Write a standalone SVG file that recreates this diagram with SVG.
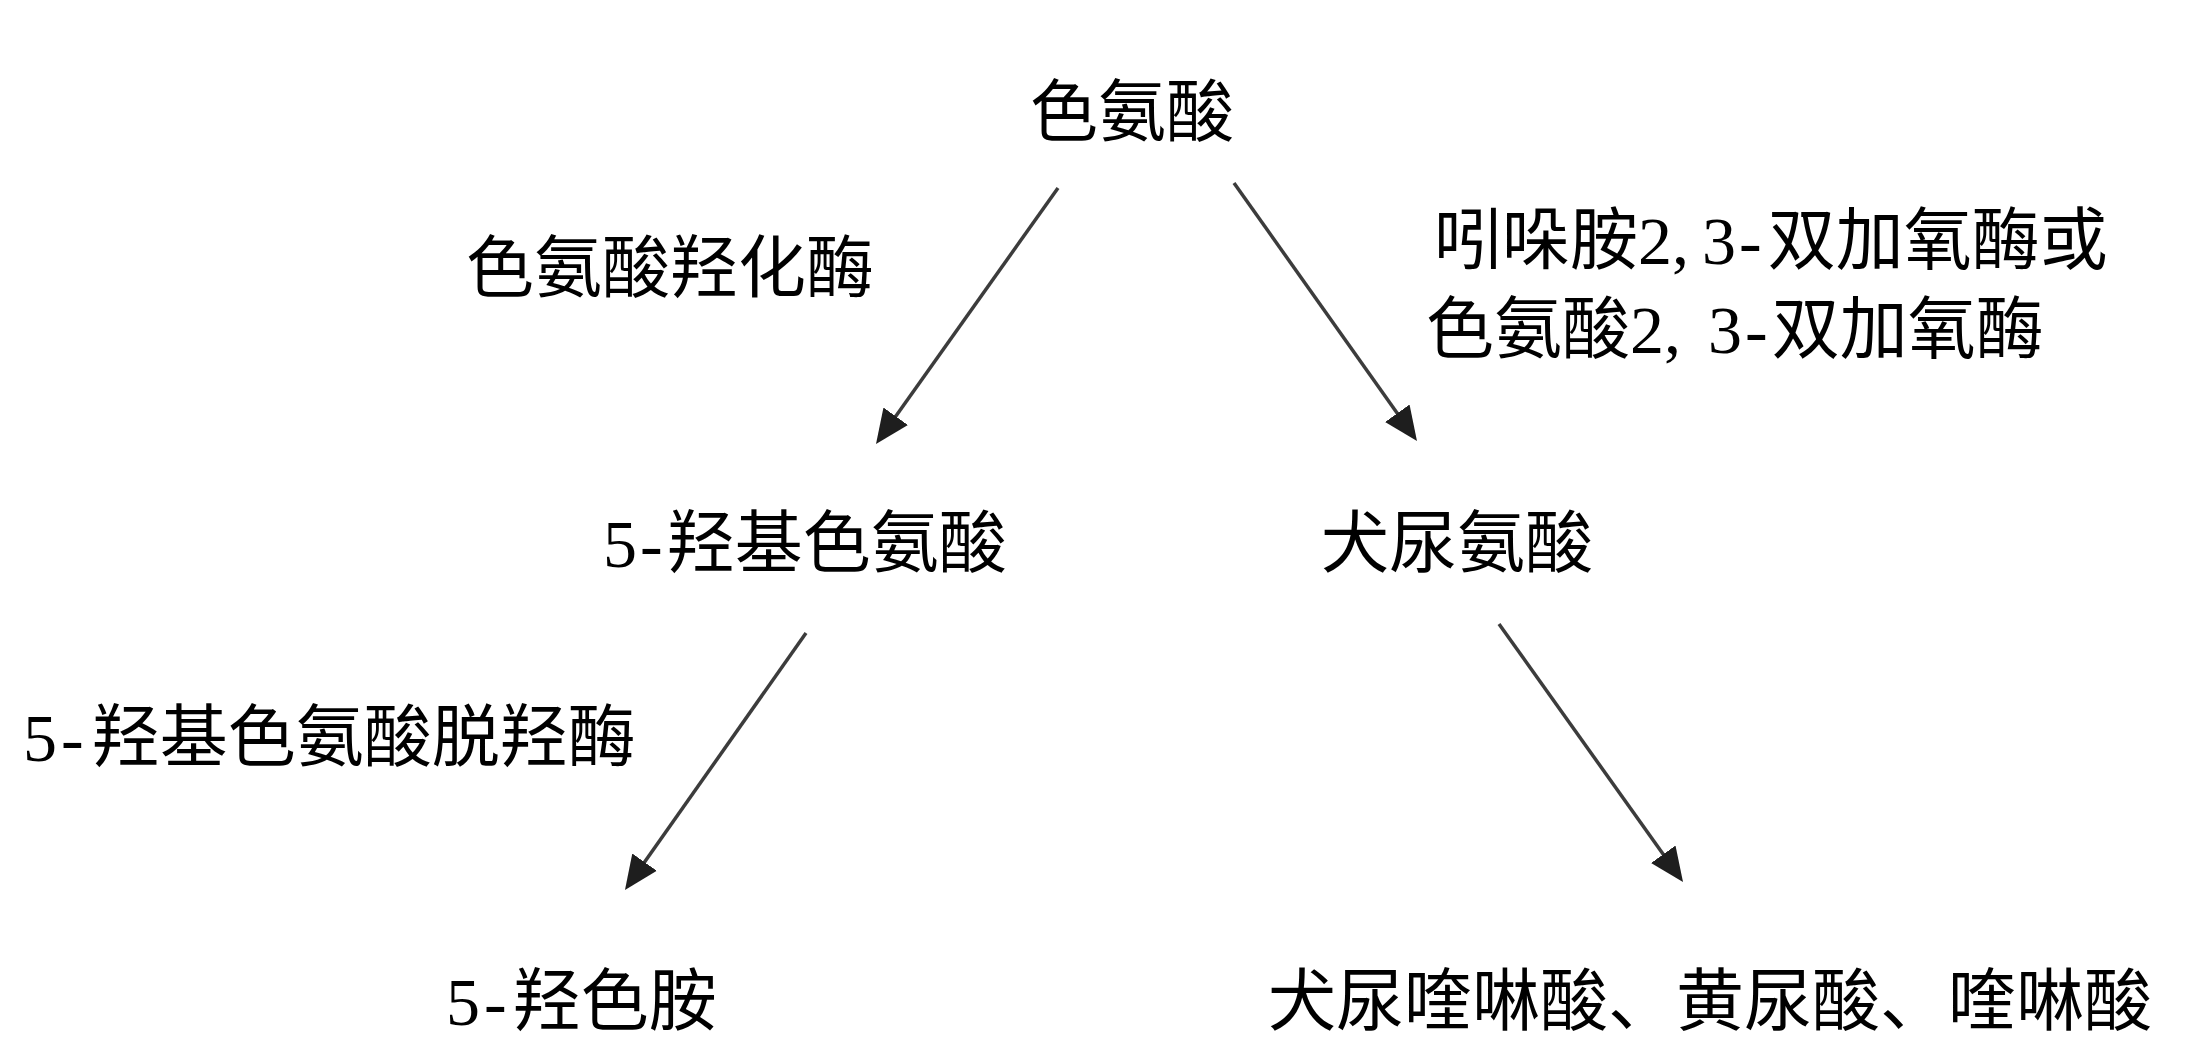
<svg xmlns="http://www.w3.org/2000/svg" width="2186" height="1062" viewBox="0 0 2186 1062">
<style>
.t{font-family:"Liberation Serif","Noto Sans CJK SC",serif;font-size:68px;fill:#000;}
.c{stroke:#3c3c3c;stroke-width:3.5;fill:none;}
</style>
<defs>
<marker id="ah" markerUnits="userSpaceOnUse" markerWidth="40" markerHeight="36" viewBox="0 -18 40 36" refX="14" refY="0" orient="auto">
<path d="M0,-15 L34,0 L0,15 z" fill="#1e1e1e"/>
</marker>
</defs>
<rect width="2186" height="1062" fill="#fff"/>
<g id="connectors">
<line class="c" x1="1058" y1="188" x2="887.6" y2="427.7" marker-end="url(#ah)"/>
<line class="c" x1="1234" y1="183" x2="1405.4" y2="424.7" marker-end="url(#ah)"/>
<line class="c" x1="806" y1="633" x2="636.5" y2="873.6" marker-end="url(#ah)"/>
<line class="c" x1="1499" y1="624" x2="1671.4" y2="865.7" marker-end="url(#ah)"/>
</g>
<g id="n-trp"><text class="t" x="1030" y="136">色氨酸</text></g>
<g id="l-th"><text class="t" x="466" y="292">色氨酸羟化酶</text></g>
<g id="l-ido"><text class="t" x="1434" y="264">吲哚胺2,<tspan dx="13">3</tspan><tspan dx="3">-</tspan><tspan dx="6">双加氧酶或</tspan></text><text class="t" x="1426" y="353">色氨酸2, <tspan dx="10">3</tspan><tspan dx="3">-</tspan><tspan dx="4">双加氧酶</tspan></text></g>
<g id="n-5htp"><text class="t" x="603" y="567">5<tspan dx="3">-</tspan><tspan dx="4">羟基色氨酸</tspan></text></g>
<g id="n-kyn"><text class="t" x="1321" y="567">犬尿氨酸</text></g>
<g id="l-dc"><text class="t" x="23" y="761">5<tspan dx="4">-</tspan><tspan dx="8">羟基色氨酸脱羟酶</tspan></text></g>
<g id="n-5ht"><text class="t" x="446" y="1025">5<tspan dx="4">-</tspan><tspan dx="6">羟色胺</tspan></text></g>
<g id="n-kyna"><text class="t" x="1268" y="1025">犬尿喹啉酸、黄尿酸、喹啉酸</text></g>
</svg>
